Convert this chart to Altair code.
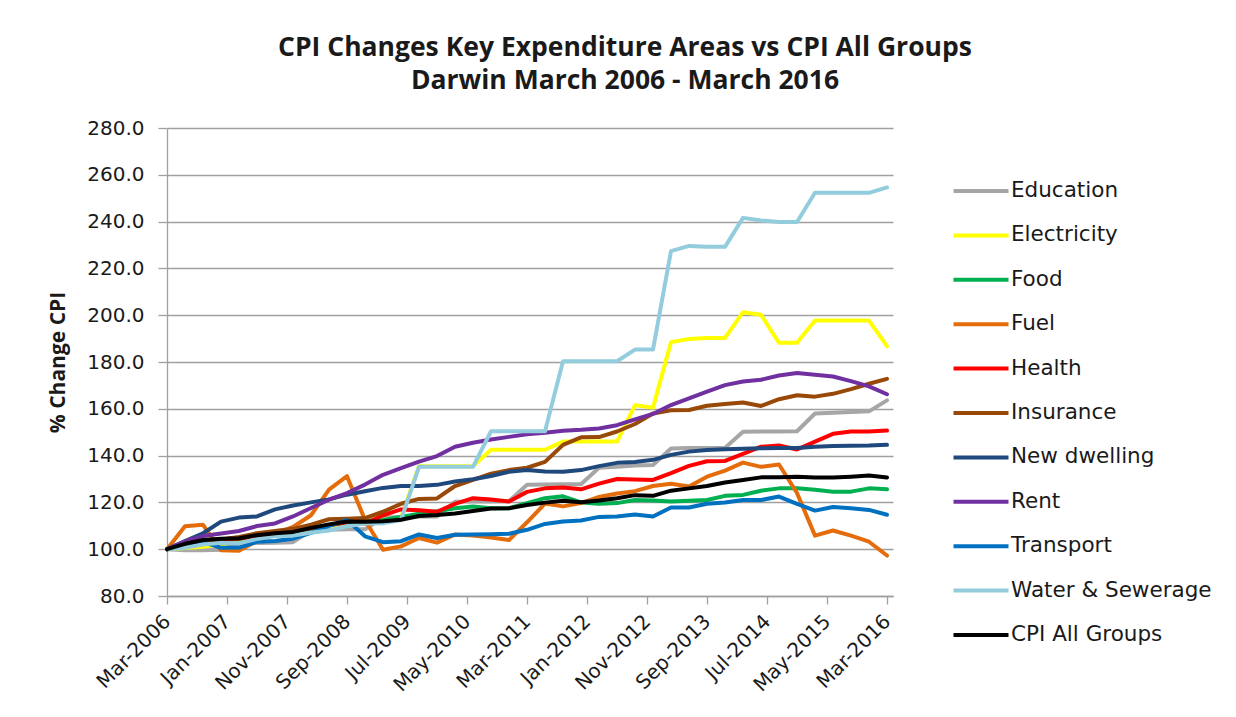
import json
import altair as alt
import pandas as pd

# ---- data (quarterly, Mar-2006 .. Mar-2016, index Mar-2006 = 100) ----
series_names = ["Education", "Electricity", "Food", "Fuel", "Health", "Insurance",
                "New dwelling", "Rent", "Transport", "Water & Sewerage", "CPI All Groups"]
series_colors = ["#A6A6A6", "#FFFF00", "#00B050", "#E46C0A", "#FF0000", "#984807",
                 "#1F497D", "#7030A0", "#0070C0", "#93CDDD", "#000000"]

months_since_start = [3 * i for i in range(41)]  # Mar-2006, Jun-2006, ... Mar-2016

education = [100, 99.5, 99.5, 99.8, 102.5, 102.7, 102.8, 103, 108, 108.3, 108.5, 108.5,
             113.5, 113.8, 114, 114, 120.3, 120.4, 120.4, 120.5, 127.5, 127.7, 127.8, 127.8,
             134.8, 135.2, 135.8, 136, 143, 143.2, 143.2, 143.3, 150.2, 150.3, 150.3, 150.4,
             158, 158.3, 158.6, 158.9, 163.6]
electricity = [100, 100.5, 101, 102, 103.5, 105, 107, 108.5, 109.5, 110, 111, 112,
               112.5, 113.5, 135.5, 135.5, 135.5, 135.5, 142.5, 142.5, 142.5, 142.5, 146, 146,
               146, 146, 161.5, 160.5, 188.5, 189.8, 190.3, 190.3, 201.3, 200.2, 188.2, 188.2,
               197.7, 197.7, 197.7, 197.7, 186.8]
food = [100, 101.5, 102.8, 103.8, 104.3, 105.3, 106.3, 107.3, 108.8, 110.3, 111.3, 112,
        112.5, 113.8, 115.2, 116.2, 117.5, 118.2, 117.5, 117.5, 119.7, 121.8, 122.6, 120,
        119.4, 119.7, 121, 120.8, 120.4, 120.7, 121, 122.8, 123.2, 125, 126, 126,
        125.4, 124.6, 124.6, 126, 125.6]
fuel = [100, 109.8, 110.4, 99.5, 99.3, 103.5, 106.5, 109.5, 114.5, 125.5, 131.2, 112.5,
        99.8, 101.2, 104.8, 102.8, 106.3, 105.8, 105, 103.9, 111.5, 119.5, 118.3, 119.7,
        122.3, 123.8, 124.8, 127, 128, 126.8, 131, 133.6, 137, 135.2, 136.2, 124,
        105.8, 108, 105.8, 103.2, 97.3]
health = [100, 101.5, 102.8, 104, 104.6, 105.5, 106.5, 107.5, 109, 110.3, 111.5, 111,
          114.5, 117, 116.6, 116, 119.4, 121.8, 121.2, 120.4, 124.5, 126, 126.4, 125.6,
          128, 130, 129.8, 129.6, 132.5, 135.6, 137.6, 137.7, 140.7, 143.8, 144.3, 142.6,
          146, 149.3, 150.3, 150.3, 150.7]
insurance = [100, 101.8, 103.2, 104.2, 105.2, 106.8, 107.8, 108.7, 110.5, 112.8, 113, 113.3,
             116, 119.4, 121.5, 121.7, 127, 129.6, 132.3, 133.8, 134.8, 137.3, 144.6, 147.8,
             147.9, 150.3, 153.5, 158, 159.4, 159.5, 161.3, 162.1, 162.7, 161.2, 164.1, 165.8,
             165.2, 166.4, 168.4, 170.7, 172.8]
new_dwelling = [100, 103.5, 106.8, 111.8, 113.5, 114, 117, 118.7, 120, 121.3, 123.3, 124.8,
                126.2, 127, 127, 127.5, 128.9, 129.9, 131.3, 133.1, 133.8, 133.2, 133.1, 133.8,
                135.5, 136.9, 137.3, 138.2, 140.3, 141.7, 142.4, 142.7, 142.9, 143.1, 143.2, 143.2,
                143.8, 144.1, 144.2, 144.3, 144.6]
rent = [100, 103.4, 105.6, 106.7, 107.8, 109.9, 111, 114, 117.6, 121.2, 124, 127.6,
        131.8, 134.6, 137.4, 139.8, 143.8, 145.5, 146.9, 148, 149.1, 149.8, 150.6, 151,
        151.6, 153, 155.5, 157.8, 161.6, 164.5, 167.3, 170.1, 171.7, 172.4, 174.2, 175.3,
        174.6, 173.8, 171.8, 169.6, 166.2]
transport = [100, 102, 103, 100.6, 100.7, 103.2, 103.5, 104.5, 107, 110, 112.5, 105.5,
             103, 103.4, 106.3, 104.8, 106.2, 106.3, 106.4, 106.6, 108.3, 110.8, 111.8, 112.3,
             113.8, 114, 114.8, 114, 117.8, 117.8, 119.4, 120, 121, 121, 122.5, 119.4,
             116.5, 118, 117.5, 116.8, 114.7]
water = [100, 100.6, 102, 102.7, 102.5, 104.4, 105.6, 105.8, 107, 108, 109.8, 111,
         111.1, 112.5, 135.2, 135.2, 135.2, 135.2, 150.4, 150.4, 150.4, 150.4, 180.3, 180.3,
         180.3, 180.3, 185.3, 185.3, 227.4, 229.6, 229.2, 229.2, 241.6, 240.5, 239.8, 239.8,
         252.3, 252.3, 252.3, 252.3, 254.6]
cpi_all = [100, 102.3, 103.9, 104.5, 104.7, 106, 106.8, 107.4, 109.1, 110.6, 111.8, 111.7,
           111.9, 112.6, 114.2, 114.6, 115.3, 116.3, 117.4, 117.5, 118.9, 119.9, 120.7, 120.1,
           120.8, 121.8, 123.1, 122.8, 125, 126, 127, 128.5, 129.6, 130.7, 130.8, 131,
           130.6, 130.6, 131, 131.5, 130.6]

x_tick_values = [0, 10, 20, 30, 40, 50, 60, 70, 80, 90, 100, 110, 120]
x_tick_labels = ["Mar-2006", "Jan-2007", "Nov-2007", "Sep-2008", "Jul-2009", "May-2010",
                 "Mar-2011", "Jan-2012", "Nov-2012", "Sep-2013", "Jul-2014", "May-2015",
                 "Mar-2016"]
y_ticks = [80, 100, 120, 140, 160, 180, 200, 220, 240, 260, 280]

values_by_series = [education, electricity, food, fuel, health, insurance,
                    new_dwelling, rent, transport, water, cpi_all]

rows = []
for k, (name, vals) in enumerate(zip(series_names, values_by_series)):
    for m, v in zip(months_since_start, vals):
        rows.append({"series": name, "order": k, "month": m, "value": v})
df = pd.DataFrame(rows)

label_expr = json.dumps(x_tick_labels) + "[round(datum.value / 10)]"

AXIS_GRAY = "#A0A0A0"
TEXT = "#1A1A1A"

chart = alt.Chart(df).mark_line(strokeWidth=4, strokeJoin="round", strokeCap="round").encode(
    x=alt.X("month:Q",
            scale=alt.Scale(domain=[0, 121], nice=False, zero=False),
            axis=alt.Axis(values=x_tick_values, labelExpr=label_expr, title=None,
                          grid=False, labelAngle=-45, labelAlign="right",
                          labelBaseline="middle", labelPadding=14, labelOverlap=False,
                          labelFont="DejaVu Sans", labelFontSize=20, labelColor=TEXT,
                          tickSize=8, tickColor=AXIS_GRAY, domainColor=AXIS_GRAY,
                          tickWidth=1.3, domainWidth=1.3)),
    y=alt.Y("value:Q",
            scale=alt.Scale(domain=[80, 280], nice=False, zero=False),
            axis=alt.Axis(values=y_ticks, format=".1f", title="% Change CPI",
                          titleFont="Open Sans", titleFontSize=21, titleFontWeight="bold",
                          titleColor=TEXT, titleAngle=-90, titleX=-109, titleY=234,
                          titleAlign="center", titleBaseline="middle",
                          labelFont="DejaVu Sans", labelFontSize=20, labelColor=TEXT,
                          labelPadding=14, tickSize=9, tickColor=AXIS_GRAY,
                          domainColor=AXIS_GRAY, tickWidth=1.3, domainWidth=1.3,
                          grid=True, gridColor=AXIS_GRAY, gridWidth=1.3)),
    color=alt.Color("series:N",
                    scale=alt.Scale(domain=series_names, range=series_colors),
                    legend=alt.Legend(title=None, orient="none", legendX=798, legendY=47,
                                      symbolType="M-2,0H2", symbolSize=756,
                                      symbolStrokeWidth=4, labelFont="DejaVu Sans",
                                      labelFontSize=21.5, labelColor=TEXT, labelOffset=14,
                                      rowPadding=17.4, padding=0, labelLimit=400)),
    detail="order:O",
    order="month:Q",
).properties(
    width=726,
    height=468,
    autosize=alt.AutoSizeParams(type="none"),
    padding={"left": 159, "top": 120, "right": 335, "bottom": 113},
    title=alt.TitleParams(
        text=["CPI Changes Key Expenditure Areas vs CPI All Groups",
              "Darwin March 2006 - March 2016"],
        font="Open Sans", fontSize=26.5, fontWeight="bold", color=TEXT,
        lineHeight=33, anchor="middle", dx=95, offset=24),
).configure_view(stroke=None)

chart.save("out.html", embed_options={"renderer": "svg", "actions": False})
